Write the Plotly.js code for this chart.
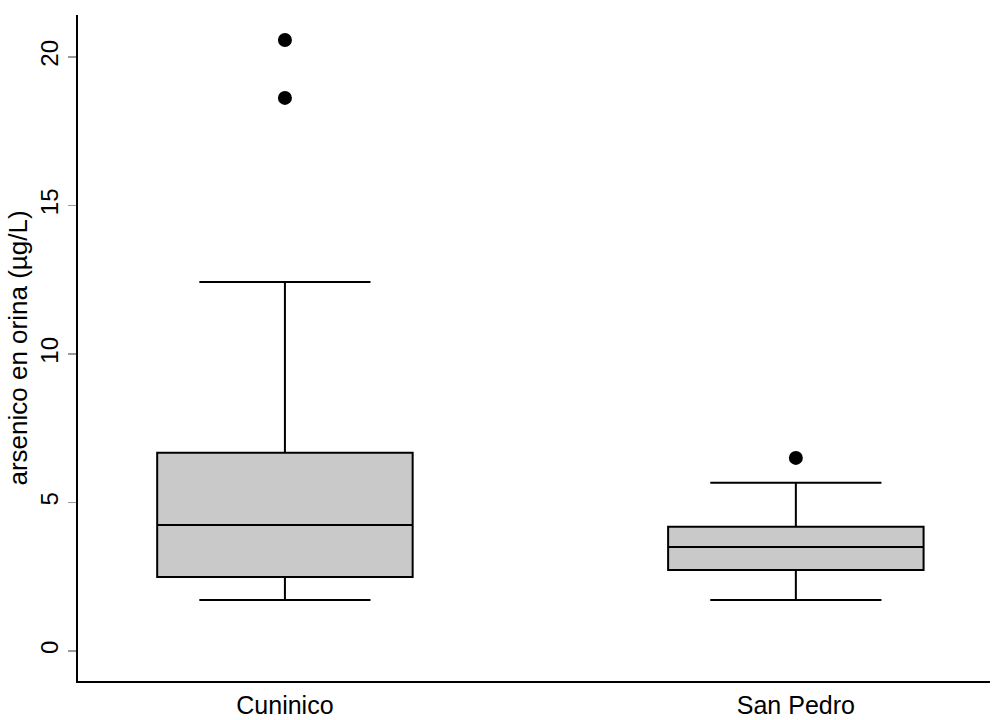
<!DOCTYPE html>
<html>
<head>
<meta charset="utf-8">
<script src="https://cdn.plot.ly/plotly-3.0.1.min.js"></script>
<style>html,body{margin:0;padding:0;background:#fff;}#chart{width:996px;height:720px;}</style>
</head>
<body>
<div id="chart"></div>
<script>
const categories = ["Cuninico", "San Pedro"];
const q1 = [2.49, 2.73];
const median = [4.24, 3.50];
const q3 = [6.67, 4.18];
const lowerfence = [1.72, 1.72];
const upperfence = [12.42, 5.66];
const outlierX = ["Cuninico", "Cuninico", "San Pedro"];
const outlierY = [20.57, 18.62, 6.50];
const yTicks = [0, 5, 10, 15, 20];

const font = "Liberation Sans, Arial, sans-serif";

const traces = [
  {
    type: "box",
    x: categories,
    q1: q1, median: median, q3: q3,
    lowerfence: lowerfence, upperfence: upperfence,
    width: 0.5,
    whiskerwidth: 0.67,
    fillcolor: "#c9c9c9",
    line: {color: "#000", width: 2},
    boxpoints: false,
    hoverinfo: "skip",
    showlegend: false
  },
  {
    type: "scatter",
    mode: "markers",
    x: outlierX,
    y: outlierY,
    marker: {color: "#000", size: 14, symbol: "circle"},
    hoverinfo: "skip",
    showlegend: false
  }
];

const layout = {
  width: 996, height: 720,
  margin: {l: 78, r: 6, t: 15, b: 39},
  paper_bgcolor: "#fff", plot_bgcolor: "#fff",
  font: {family: font, size: 25, color: "#000"},
  xaxis: {
    type: "category",
    range: [-0.405, 1.38],
    showgrid: false, zeroline: false,
    showline: true, linecolor: "#000", linewidth: 2,
    ticks: "", tickfont: {family: font, size: 25, color: "#000"},
    ticklabelstandoff: 1
  },
  yaxis: {
    range: [-1.01, 21.41],
    tickvals: yTicks, ticktext: yTicks.map(String),
    tickangle: -90,
    showgrid: false, zeroline: false,
    showline: true, linecolor: "#000", linewidth: 2,
    ticks: "outside", ticklen: 8, tickcolor: "#999", tickwidth: 1.5,
    tickfont: {family: font, size: 24, color: "#000"},
    ticklabelstandoff: 0,
    title: {text: "arsenico en orina (µg/L)", font: {family: font, size: 26, color: "#000"}, standoff: 1}
  }
};

Plotly.newPlot("chart", traces, layout, {displayModeBar: false, staticPlot: true});
</script>
</body>
</html>
